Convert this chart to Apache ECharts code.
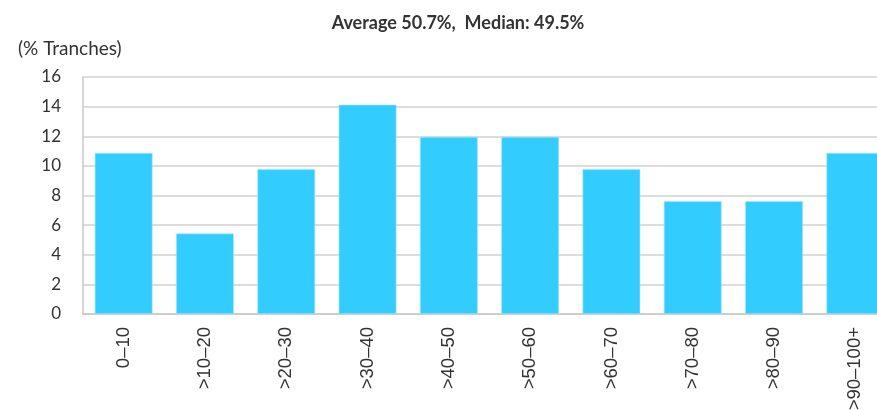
<!DOCTYPE html>
<html>
<head>
<meta charset="utf-8">
<script src="https://cdn.jsdelivr.net/npm/echarts@6/dist/echarts.min.js"></script>
<style>
  html, body { margin: 0; padding: 0; background: #ffffff; overflow: hidden; }
  #wrap { width: 877px; height: 410px; overflow: hidden; }
  #chart { width: 897px; height: 410px; }
</style>
</head>
<body>
<div id="wrap"><div id="chart"></div></div>
<script>
// LTV buckets (%) and share of tranches in each bucket (92 tranches in total)
const categories = ['0–10', '>10–20', '>20–30', '>30–40', '>40–50', '>50–60', '>60–70', '>70–80', '>80–90', '>90–100+'];
const tranchesPct = [10.87, 5.43, 9.78, 14.13, 11.96, 11.96, 9.78, 7.61, 7.61, 10.87];
const yTicks = { min: 0, max: 16, interval: 2 };
const subtitle = 'Average 50.7%,  Median: 49.5%';
const yAxisName = '(% Tranches)';

const chart = echarts.init(document.getElementById('chart'), null, { renderer: 'canvas' });

chart.setOption({
  animation: false,
  backgroundColor: '#ffffff',
  title: {
    text: subtitle,
    left: 453,
    textAlign: 'center',
    top: 9,
    textStyle: { fontFamily: 'Lato', fontWeight: 'bold', fontSize: 18, color: '#333333' }
  },
  graphic: [{
    type: 'text',
    left: 18,
    top: 39,
    style: { text: yAxisName, fontFamily: 'Lato', fontSize: 19, fill: '#333333' }
  }],
  grid: { left: 83, right: 1, top: 77, bottom: 96, containLabel: false, outerBoundsMode: 'none' },
  xAxis: {
    type: 'category',
    data: categories,
    axisLine: { lineStyle: { color: '#c8c8c8', width: 1.5 } },
    axisTick: { show: false },
    axisLabel: {
      rotate: 90,
      margin: 13,
      interval: 0,
      fontFamily: 'Liberation Sans',
      fontSize: 18.5,
      color: '#333333'
    }
  },
  yAxis: {
    type: 'value',
    min: yTicks.min,
    max: yTicks.max,
    interval: yTicks.interval,
    axisLine: { show: true, lineStyle: { color: '#c8c8c8', width: 1.5 } },
    axisTick: { show: false },
    axisLabel: { margin: 22, fontFamily: 'Lato', fontSize: 17, color: '#333333' },
    splitLine: { lineStyle: { color: '#d0d0d0', width: 1.5 } }
  },
  series: [{
    type: 'bar',
    data: tranchesPct,
    barCategoryGap: '29%',
    itemStyle: { color: '#33ccff', borderColor: '#a8e6ff', borderWidth: 0.6 }
  }]
});
</script>
</body>
</html>
